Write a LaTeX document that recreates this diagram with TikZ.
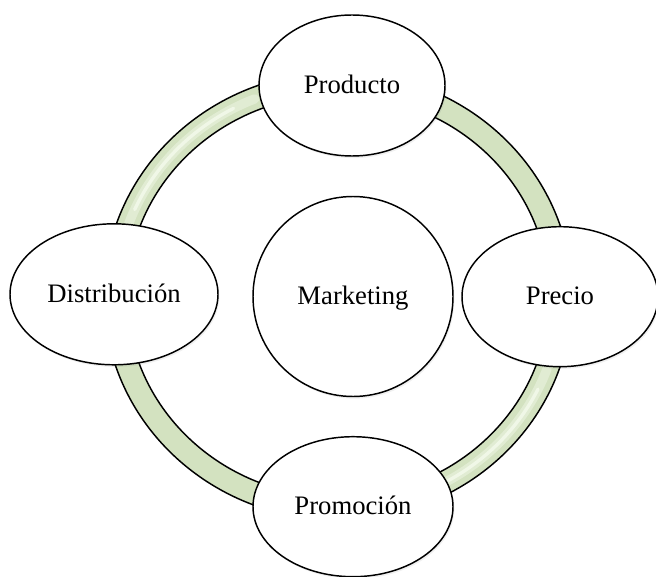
\documentclass[tikz,border=0pt]{standalone}
\usepackage{fontspec}
\setmainfont{Liberation Serif}
\usetikzlibrary{shapes.geometric,shadows}
\definecolor{ringgreen}{RGB}{211,226,192}
\definecolor{ringlight}{RGB}{244,250,236}
\begin{document}
\begin{tikzpicture}[x=0.75pt,y=-0.75pt,
  bubble/.style={ellipse, draw=black, line width=1.1pt, fill=white, inner sep=0pt,
    font=\fontsize{20}{24}\selectfont, text height=14pt, text depth=2pt,
    drop shadow={shadow xshift=1pt, shadow yshift=-1.6pt, opacity=0.12}},
  ringline/.style={line width=1.1pt, draw=black},
  glow/.style={draw=ringlight, line cap=round}
]
\useasboundingbox (0,0) rectangle (656,577);
\coordinate (c) at (338,296);
% ring band
\fill[ringgreen, even odd rule] (c) ellipse [x radius=175.5pt, y radius=168pt]
  (c) ellipse [x radius=158.25pt, y radius=150.75pt];
% highlights
\draw[glow, line width=7pt, opacity=0.45] ([shift={(112:166.9pt and 159.4pt)}]c) arc[start angle=112, end angle=162, x radius=166.9pt, y radius=159.4pt];
\draw[glow, line width=2.5pt, opacity=0.8] ([shift={(118:166.9pt and 159.4pt)}]c) arc[start angle=118, end angle=156, x radius=166.9pt, y radius=159.4pt];
\draw[glow, line width=7pt, opacity=0.45] ([shift={(288:166.9pt and 159.4pt)}]c) arc[start angle=288, end angle=340, x radius=166.9pt, y radius=159.4pt];
\draw[glow, line width=2.5pt, opacity=0.8] ([shift={(294:166.9pt and 159.4pt)}]c) arc[start angle=294, end angle=334, x radius=166.9pt, y radius=159.4pt];
\draw[ringline] (c) ellipse [x radius=175.5pt, y radius=168pt];
\draw[ringline] (c) ellipse [x radius=158.25pt, y radius=150.75pt];
% nodes
\node[bubble, minimum width=139.5pt, minimum height=105.75pt] (prod) at (352,85.5) {Producto};
\node[bubble, minimum width=147pt, minimum height=105pt] (prec) at (560,296.7) {Precio};
\node[bubble, minimum width=156pt, minimum height=105.75pt] (dist) at (114,294.3) {Distribución};
\node[bubble, minimum width=150pt, minimum height=105pt] (prom) at (353,506.7) {Promoción};
\node[bubble, circle, minimum size=150pt] (mkt) at (353,296.5) {Marketing};
\end{tikzpicture}
\end{document}
